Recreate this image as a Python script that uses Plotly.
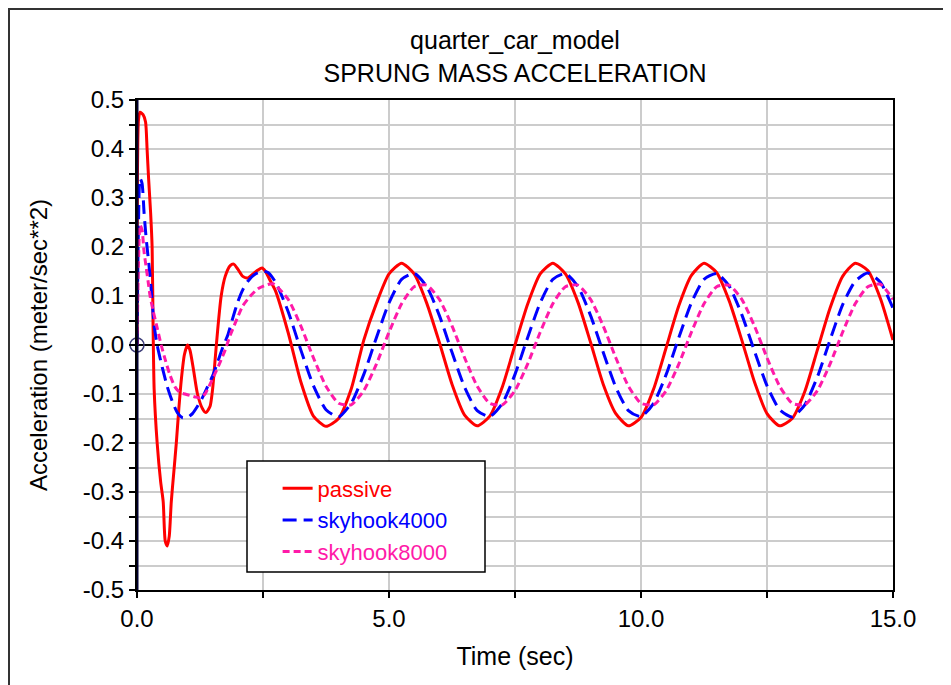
import plotly.graph_objects as go

# values (time in sec, acceleration in m/s^2)
passive_time = [
    0.0, 0.03, 0.06, 0.12, 0.17, 0.2, 0.23, 0.27, 0.3, 0.32, 0.34, 0.4, 0.47, 0.52,
    0.56, 0.6, 0.64, 0.68, 0.73, 0.78, 0.83, 0.88, 0.94, 1.0, 1.05, 1.12, 1.2, 1.3,
    1.37, 1.45, 1.5, 1.55, 1.6, 1.67, 1.75, 1.85, 1.92, 2.0, 2.1, 2.2, 2.3, 2.4,
    2.48, 2.55, 2.65, 2.75, 3.0, 3.25, 3.5, 3.75, 4.0, 4.25, 4.5, 4.75, 5.0, 5.25,
    5.5, 5.75, 6.0, 6.25, 6.5, 6.75, 7.0, 7.25, 7.5, 7.75, 8.0, 8.25, 8.5, 8.75,
    9.0, 9.25, 9.5, 9.75, 10.0, 10.25, 10.5, 10.75, 11.0, 11.25, 11.5, 11.75, 12.0,
    12.25, 12.5, 12.75, 13.0, 13.25, 13.5, 13.75, 14.0, 14.25, 14.5, 14.75, 15.0,
]
passive_acc = [
    0.0, 0.46, 0.475, 0.47, 0.455, 0.4, 0.34, 0.27, 0.2, 0.03, -0.09, -0.2, -0.28, -0.32,
    -0.4, -0.41, -0.39, -0.32, -0.26, -0.2, -0.13, -0.07, -0.02, 0.0, -0.01, -0.05, -0.1, -0.13,
    -0.138, -0.125, -0.09, -0.03, 0.03, 0.1, 0.14, 0.162, 0.165, 0.155, 0.14, 0.137, 0.145, 0.153,
    0.157, 0.15, 0.13, 0.11, 0.025, -0.075, -0.145, -0.166, -0.15, -0.09, 0.01, 0.085, 0.145, 0.167,
    0.145, 0.085, 0.005, -0.08, -0.143, -0.165, -0.145, -0.085, 0.0, 0.083, 0.145, 0.167, 0.145, 0.087,
    0.005, -0.08, -0.14, -0.165, -0.148, -0.09, -0.005, 0.08, 0.142, 0.167, 0.148, 0.09, 0.01,
    -0.075, -0.14, -0.165, -0.15, -0.095, -0.01, 0.075, 0.14, 0.167, 0.152, 0.095, 0.01,
]

skyhook4000_time = [
    0.0, 0.03, 0.06, 0.1, 0.14, 0.18, 0.22, 0.26, 0.3, 0.34, 0.4, 0.5, 0.6, 0.7, 0.8,
    0.9, 1.0, 1.1, 1.2, 1.3, 1.4, 1.5, 1.6, 1.7, 1.8, 1.9, 2.0, 2.1, 2.2, 2.35, 2.5,
    2.6, 2.75, 3.0, 3.25, 3.5, 3.75, 4.0, 4.25, 4.5, 4.75, 5.0, 5.25, 5.5, 5.75, 6.0,
    6.25, 6.5, 6.75, 7.0, 7.25, 7.5, 7.75, 8.0, 8.25, 8.5, 8.75, 9.0, 9.25, 9.5, 9.75,
    10.0, 10.25, 10.5, 10.75, 11.0, 11.25, 11.5, 11.75, 12.0, 12.25, 12.5, 12.75, 13.0,
    13.25, 13.5, 13.75, 14.0, 14.25, 14.5, 14.75, 15.0,
]
skyhook4000_acc = [
    0.0, 0.25, 0.34, 0.33, 0.27, 0.22, 0.18, 0.14, 0.09, 0.04, 0.0, -0.045, -0.085, -0.115, -0.138,
    -0.148, -0.148, -0.14, -0.125, -0.107, -0.085, -0.063, -0.035, -0.005, 0.02, 0.055, 0.088, 0.113, 0.13, 0.145, 0.15,
    0.148, 0.128, 0.068, -0.01, -0.083, -0.132, -0.147, -0.119, -0.06, 0.015, 0.086, 0.134, 0.146, 0.119, 0.06,
    -0.015, -0.086, -0.134, -0.146, -0.119, -0.06, 0.015, 0.086, 0.134, 0.146, 0.119, 0.06, -0.015, -0.086, -0.134,
    -0.146, -0.119, -0.06, 0.015, 0.086, 0.134, 0.146, 0.12, 0.062, -0.012, -0.083, -0.132, -0.147,
    -0.122, -0.065, 0.01, 0.082, 0.13, 0.147, 0.128, 0.075,
]

skyhook8000_time = [
    0.0, 0.03, 0.06, 0.1, 0.14, 0.18, 0.22, 0.26, 0.32, 0.4, 0.48, 0.56, 0.65, 0.75,
    0.85, 0.95, 1.05, 1.15, 1.25, 1.35, 1.45, 1.55, 1.65, 1.75, 1.85, 1.95, 2.1, 2.25,
    2.4, 2.55, 2.7, 3.0, 3.25, 3.5, 3.75, 4.0, 4.25, 4.5, 4.75, 5.0, 5.25, 5.5, 5.75,
    6.0, 6.25, 6.5, 6.75, 7.0, 7.25, 7.5, 7.75, 8.0, 8.25, 8.5, 8.75, 9.0, 9.25, 9.5,
    9.75, 10.0, 10.25, 10.5, 10.75, 11.0, 11.25, 11.5, 11.75, 12.0, 12.25, 12.5, 12.75,
    13.0, 13.25, 13.5, 13.75, 14.0, 14.25, 14.5, 14.75, 15.0,
]
skyhook8000_acc = [
    0.0, 0.17, 0.245, 0.235, 0.19, 0.16, 0.13, 0.1, 0.07, 0.035, 0.0, -0.03, -0.06, -0.085,
    -0.097, -0.1, -0.103, -0.106, -0.108, -0.1, -0.08, -0.058, -0.035, -0.01, 0.02, 0.045, 0.08, 0.1,
    0.115, 0.122, 0.125, 0.093, 0.039, -0.026, -0.084, -0.119, -0.122, -0.093, -0.039, 0.026, 0.084, 0.119, 0.122,
    0.093, 0.039, -0.026, -0.084, -0.119, -0.122, -0.093, -0.039, 0.026, 0.084, 0.119, 0.122, 0.093, 0.039, -0.026,
    -0.084, -0.119, -0.122, -0.093, -0.039, 0.026, 0.084, 0.119, 0.122, 0.093, 0.039, -0.026, -0.084,
    -0.119, -0.122, -0.093, -0.039, 0.026, 0.084, 0.119, 0.124, 0.093,
]

x_tick_vals = [0, 5, 10, 15]
x_tick_labels = ["0.0", "5.0", "10.0", "15.0"]
y_tick_vals = [0.5, 0.4, 0.3, 0.2, 0.1, 0.0, -0.1, -0.2, -0.3, -0.4, -0.5]
y_tick_labels = ["0.5", "0.4", "0.3", "0.2", "0.1", "0.0", "-0.1", "-0.2", "-0.3", "-0.4", "-0.5"]

FONT = "Liberation Sans, Arial, sans-serif"
GRID = "#cccccc"

fig = go.Figure()

series = [
    ("passive", passive_time, passive_acc, "#ff0000", "solid"),
    ("skyhook4000", skyhook4000_time, skyhook4000_acc, "#0000ff", "14px,7px"),
    ("skyhook8000", skyhook8000_time, skyhook8000_acc, "#ff1aa8", "7px,4px"),
]
for name, t, acc, color, dash in series:
    fig.add_trace(go.Scatter(
        x=t,
        y=acc,
        mode="lines",
        name=f"<span style='color:{color}'>{name}</span>",
        line={"color": color, "width": 3, "dash": dash, "shape": "spline", "smoothing": 0.6},
        hovertemplate=name + "<br>%{x:.2f} s: %{y:.3f}<extra></extra>",
    ))

# origin marker
fig.add_trace(go.Scatter(
    x=[0], y=[0], mode="markers", showlegend=False, cliponaxis=False, hoverinfo="skip",
    marker={"symbol": "circle-open", "size": 14, "color": "#3c3c78", "line": {"width": 1.5}},
))

# the page body adds 8px on the left/top, margins are set to land the plot at 137..893 x 100..590
fig.update_layout(
    width=951,
    height=685,
    margin={"l": 129, "r": 66, "t": 92, "b": 103},
    paper_bgcolor="white",
    plot_bgcolor="white",
    font={"family": FONT, "size": 24, "color": "black"},
    title={
        "text": "quarter_car_model<br>SPRUNG MASS ACCELERATION",
        "x": 0.5, "xref": "paper", "xanchor": "center",
        "y": 1 - 41 / 685, "yanchor": "top",
        "font": {"family": FONT, "size": 25, "color": "black"},
        "automargin": False,
    },
    showlegend=True,
    legend={
        "x": 0.186, "y": 0.25, "xanchor": "left", "yanchor": "top",
        "bgcolor": "rgba(0,0,0,0)", "borderwidth": 0,
        "font": {"family": FONT, "size": 22},
        "tracegroupgap": 0,
    },
    shapes=[
        # legend frame
        {"type": "rect", "xref": "paper", "yref": "paper",
         "x0": (247 - 137) / 756, "x1": (485 - 137) / 756,
         "y0": (590 - 572) / 490, "y1": (590 - 461) / 490,
         "fillcolor": "white", "line": {"color": "black", "width": 1.5}, "layer": "above"},
        # thick left axis
        {"type": "line", "xref": "x", "yref": "paper", "x0": 0, "x1": 0, "y0": 0, "y1": 1,
         "line": {"color": "#000033", "width": 3}, "layer": "above"},
        # figure border (kept just inside the figure's own edge)
        {"type": "rect", "xref": "paper", "yref": "paper",
         "x0": (9 - 137) / 756, "x1": (947 - 137) / 756,
         "y0": -0.25, "y1": (590 - 9) / 490,
         "line": {"color": "#333333", "width": 2}},
    ],
)

fig.update_xaxes(
    range=[0, 15],
    automargin=False,
    tickmode="array", tickvals=x_tick_vals, ticktext=x_tick_labels,
    ticks="outside", ticklen=6, tickwidth=1.5, tickcolor="black",
    ticklabelstandoff=0,
    showgrid=True, gridcolor=GRID, gridwidth=2,
    minor={"tickmode": "linear", "tick0": 0, "dtick": 2.5, "ticks": "outside", "ticklen": 6,
           "tickcolor": "black", "showgrid": True, "gridcolor": GRID, "gridwidth": 2},
    showline=True, linecolor="black", linewidth=2, mirror=True,
    zeroline=False,
    title={"text": "Time (sec)", "font": {"family": FONT, "size": 25}, "standoff": 17},
)

fig.update_yaxes(
    range=[-0.5, 0.5],
    automargin=False,
    tickmode="array", tickvals=y_tick_vals, ticktext=y_tick_labels,
    ticks="outside", ticklen=6, tickwidth=1.5, tickcolor="black",
    showgrid=True, gridcolor=GRID, gridwidth=2,
    minor={"tickmode": "linear", "tick0": 0, "dtick": 0.05, "ticks": "outside", "ticklen": 6,
           "tickcolor": "black", "showgrid": True, "gridcolor": GRID, "gridwidth": 2},
    showline=True, linecolor="black", linewidth=2, mirror=True,
    zeroline=True, zerolinecolor="black", zerolinewidth=1.5,
    title={"text": "Acceleration (meter/sec**2)", "font": {"family": FONT, "size": 24}, "standoff": 28},
)

fig.write_html("out.html")
